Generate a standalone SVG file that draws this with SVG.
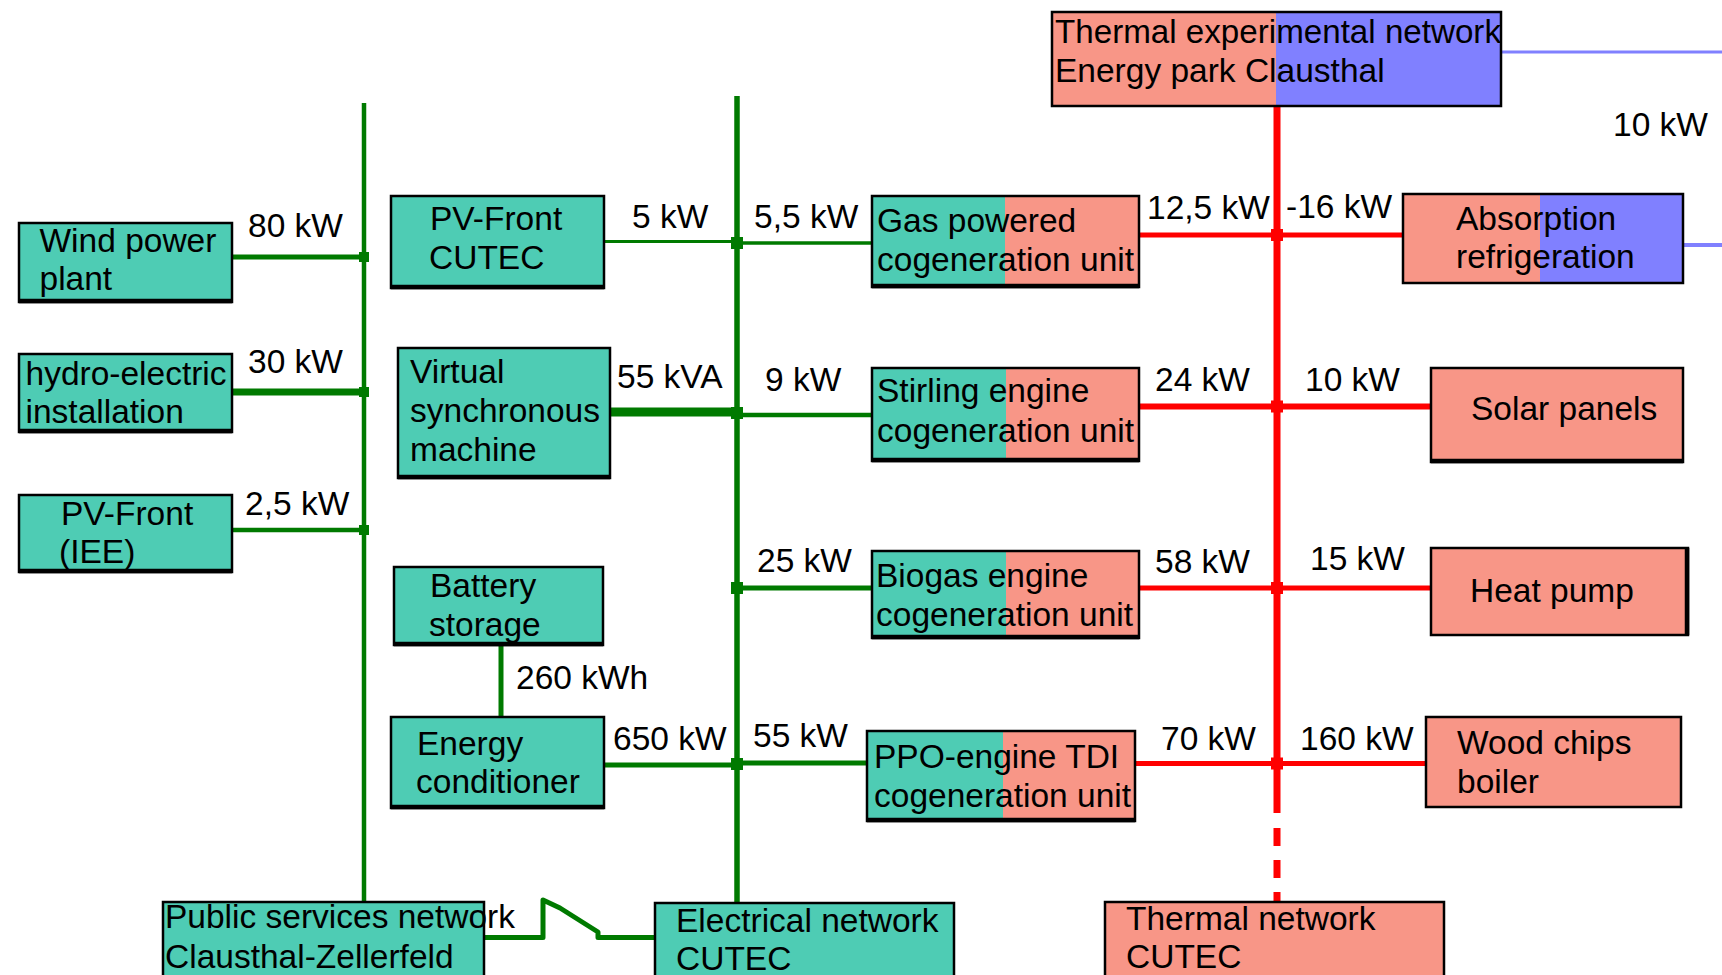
<svg xmlns="http://www.w3.org/2000/svg" width="1722" height="975" viewBox="0 0 1722 975">
<style>
text{font-family:"Liberation Sans",Arial,sans-serif;font-size:33.5px;fill:#000}
.box{fill:none;stroke:#000;stroke-width:2.5}
.sh{stroke:#000;stroke-width:4.5}
.teal{fill:#4ECCB4}
.salmon{fill:#F89687}
.blue{fill:#8080FF}
.g{stroke:#007A00;fill:none}
.r{stroke:#FF0000;fill:none}
.b{stroke:#8080FF;fill:none}
.jg{fill:#007A00}
.jr{fill:#FF0000}
</style>
<rect width="1722" height="975" fill="#fff"/>
<g id="connectors">
  <line class="g" x1="364" y1="103" x2="364" y2="902" stroke-width="4.5"/>
  <line class="g" x1="232" y1="257" x2="364" y2="257" stroke-width="5"/>
  <line class="g" x1="232" y1="392" x2="364" y2="392" stroke-width="7"/>
  <line class="g" x1="232" y1="530" x2="364" y2="530" stroke-width="4.5"/>
  <rect class="jg" x="359" y="252" width="10" height="10"/>
  <rect class="jg" x="359" y="387" width="10" height="10"/>
  <rect class="jg" x="359" y="525" width="10" height="10"/>
  <line class="g" x1="737" y1="96" x2="737" y2="904" stroke-width="5.5"/>
  <line class="g" x1="604" y1="241.5" x2="737" y2="241.5" stroke-width="3"/>
  <line class="g" x1="737" y1="243" x2="872" y2="243" stroke-width="3.5"/>
  <line class="g" x1="610" y1="412" x2="737" y2="412" stroke-width="9"/>
  <line class="g" x1="737" y1="415" x2="872" y2="415" stroke-width="4.5"/>
  <line class="g" x1="737" y1="588" x2="872" y2="588" stroke-width="5"/>
  <line class="g" x1="604" y1="765" x2="737" y2="765" stroke-width="5"/>
  <line class="g" x1="737" y1="763" x2="867" y2="763" stroke-width="5"/>
  <rect class="jg" x="731" y="237" width="12" height="12"/>
  <rect class="jg" x="731" y="407" width="12" height="12"/>
  <rect class="jg" x="731" y="582" width="12" height="12"/>
  <rect class="jg" x="731" y="758" width="12" height="12"/>
  <line class="g" x1="501" y1="645" x2="501" y2="717" stroke-width="5"/>
  <polyline class="g" points="484,937.5 543,937.5 543,900 560,908 598,932 598,937.5 655,937.5" stroke-width="5" stroke-linejoin="round"/>
  <line class="r" x1="1277" y1="106" x2="1277" y2="813" stroke-width="7"/>
  <line class="r" x1="1277" y1="828" x2="1277" y2="902" stroke-width="7" stroke-dasharray="18,14"/>
  <line class="r" x1="1139" y1="235" x2="1403" y2="235" stroke-width="5"/>
  <line class="r" x1="1139" y1="406.5" x2="1431" y2="406.5" stroke-width="6"/>
  <line class="r" x1="1139" y1="588" x2="1431" y2="588" stroke-width="5"/>
  <line class="r" x1="1135" y1="763.5" x2="1426" y2="763.5" stroke-width="5"/>
  <rect class="jr" x="1271" y="229" width="12" height="12"/>
  <rect class="jr" x="1271" y="400.5" width="12" height="12"/>
  <rect class="jr" x="1271" y="582" width="12" height="12"/>
  <rect class="jr" x="1271" y="757.5" width="12" height="12"/>
  <line class="b" x1="1501" y1="52" x2="1722" y2="52" stroke-width="3"/>
  <line class="b" x1="1682" y1="245" x2="1722" y2="245" stroke-width="4"/>
</g>
<g id="labels">
  <text x="248" y="237">80 kW</text>
  <text x="248" y="373">30 kW</text>
  <text x="245" y="515">2,5 kW</text>
  <text x="632" y="228">5 kW</text>
  <text x="754" y="228">5,5 kW</text>
  <text x="617" y="388">55 kVA</text>
  <text x="765" y="391">9 kW</text>
  <text x="757" y="572">25 kW</text>
  <text x="516" y="689">260 kWh</text>
  <text x="613" y="750">650 kW</text>
  <text x="753" y="747">55 kW</text>
  <text x="1147" y="219">12,5 kW</text>
  <text x="1286" y="218">-16 kW</text>
  <text x="1613" y="136">10 kW</text>
  <text x="1155" y="391">24 kW</text>
  <text x="1305" y="391">10 kW</text>
  <text x="1155" y="573">58 kW</text>
  <text x="1310" y="570">15 kW</text>
  <text x="1161" y="750">70 kW</text>
  <text x="1300" y="750">160 kW</text>
</g>
<g id="wind">
  <rect class="teal" x="19" y="223" width="213" height="79"/>
  <rect class="box" x="19" y="223" width="213" height="79"/>
  <line class="sh" x1="19" y1="301" x2="232" y2="301"/>
  <text x="39.5" y="252">Wind power</text>
  <text x="39.5" y="290">plant</text>
</g>
<g id="hydro">
  <rect class="teal" x="19" y="354" width="213" height="78"/>
  <rect class="box" x="19" y="354" width="213" height="78"/>
  <line class="sh" x1="19" y1="431" x2="232" y2="431"/>
  <text x="25.5" y="385">hydro-electric</text>
  <text x="25.5" y="423">installation</text>
</g>
<g id="pv-iee">
  <rect class="teal" x="19" y="495" width="213" height="77"/>
  <rect class="box" x="19" y="495" width="213" height="77"/>
  <line class="sh" x1="19" y1="571" x2="232" y2="571"/>
  <text x="61" y="525">PV-Front</text>
  <text x="59" y="563">(IEE)</text>
</g>
<g id="pv-cutec">
  <rect class="teal" x="391" y="196" width="213" height="92"/>
  <rect class="box" x="391" y="196" width="213" height="92"/>
  <line class="sh" x1="391" y1="287" x2="604" y2="287"/>
  <text x="430" y="230">PV-Front</text>
  <text x="429" y="269">CUTEC</text>
</g>
<g id="vsm">
  <rect class="teal" x="398" y="348" width="212" height="130"/>
  <rect class="box" x="398" y="348" width="212" height="130"/>
  <line class="sh" x1="398" y1="477" x2="610" y2="477"/>
  <text x="410" y="383">Virtual</text>
  <text x="410" y="422">synchronous</text>
  <text x="410" y="461">machine</text>
</g>
<g id="battery">
  <rect class="teal" x="394" y="567" width="209" height="78"/>
  <rect class="box" x="394" y="567" width="209" height="78"/>
  <line class="sh" x1="394" y1="644" x2="603" y2="644"/>
  <text x="430" y="597">Battery</text>
  <text x="429" y="636">storage</text>
</g>
<g id="energy-conditioner">
  <rect class="teal" x="391" y="717" width="213" height="91"/>
  <rect class="box" x="391" y="717" width="213" height="91"/>
  <line class="sh" x1="391" y1="807" x2="604" y2="807"/>
  <text x="417" y="755">Energy</text>
  <text x="416" y="793">conditioner</text>
</g>
<g id="public-services">
  <rect class="teal" x="163" y="902" width="321" height="80"/>
  <rect class="box" x="163" y="902" width="321" height="80"/>
  <text x="165" y="928">Public services network</text>
  <text x="165" y="968">Clausthal-Zellerfeld</text>
</g>
<g id="electrical-network">
  <rect class="teal" x="655" y="903" width="299" height="80"/>
  <rect class="box" x="655" y="903" width="299" height="80"/>
  <text x="676" y="932">Electrical network</text>
  <text x="676" y="970">CUTEC</text>
</g>
<g id="thermal-experimental">
  <rect class="salmon" x="1052" y="12" width="224" height="94"/>
  <rect class="blue" x="1276" y="12" width="225" height="94"/>
  <rect class="box" x="1052" y="12" width="449" height="94"/>
  <text x="1055" y="43" textLength="446" lengthAdjust="spacingAndGlyphs">Thermal experimental network</text>
  <text x="1055" y="82">Energy park Clausthal</text>
</g>
<g id="gas">
  <rect class="teal" x="872" y="196" width="133" height="91"/>
  <rect class="salmon" x="1005" y="196" width="134" height="91"/>
  <rect class="box" x="872" y="196" width="267" height="91"/>
  <line class="sh" x1="872" y1="286" x2="1139" y2="286"/>
  <text x="877" y="232">Gas powered</text>
  <text x="877" y="271">cogeneration unit</text>
</g>
<g id="stirling">
  <rect class="teal" x="872" y="368" width="134" height="93"/>
  <rect class="salmon" x="1006" y="368" width="133" height="93"/>
  <rect class="box" x="872" y="368" width="267" height="93"/>
  <line class="sh" x1="872" y1="460" x2="1139" y2="460"/>
  <text x="877" y="402">Stirling engine</text>
  <text x="877" y="442">cogeneration unit</text>
</g>
<g id="biogas">
  <rect class="teal" x="872" y="551" width="134" height="87"/>
  <rect class="salmon" x="1006" y="551" width="133" height="87"/>
  <rect class="box" x="872" y="551" width="267" height="87"/>
  <line class="sh" x1="872" y1="637" x2="1139" y2="637"/>
  <text x="876" y="587">Biogas engine</text>
  <text x="876" y="626">cogeneration unit</text>
</g>
<g id="ppo">
  <rect class="teal" x="867" y="731" width="136" height="90"/>
  <rect class="salmon" x="1003" y="731" width="132" height="90"/>
  <rect class="box" x="867" y="731" width="268" height="90"/>
  <line class="sh" x1="867" y1="820" x2="1135" y2="820"/>
  <text x="874" y="768">PPO-engine TDI</text>
  <text x="874" y="807">cogeneration unit</text>
</g>
<g id="thermal-cutec">
  <rect class="salmon" x="1105" y="902" width="339" height="80"/>
  <rect class="box" x="1105" y="902" width="339" height="80"/>
  <text x="1126" y="930">Thermal network</text>
  <text x="1126" y="968">CUTEC</text>
</g>
<g id="absorption">
  <rect class="salmon" x="1403" y="194" width="137" height="89"/>
  <rect class="blue" x="1540" y="194" width="143" height="89"/>
  <rect class="box" x="1403" y="194" width="280" height="89"/>
  <text x="1456" y="230">Absorption</text>
  <text x="1456" y="268">refrigeration</text>
</g>
<g id="solar">
  <rect class="salmon" x="1431" y="368" width="252" height="94"/>
  <rect class="box" x="1431" y="368" width="252" height="94"/>
  <line class="sh" x1="1431" y1="461" x2="1683" y2="461"/>
  <text x="1471" y="420">Solar panels</text>
</g>
<g id="heat-pump">
  <rect class="salmon" x="1431" y="548" width="257" height="87"/>
  <rect class="box" x="1431" y="548" width="257" height="87"/>
  <line class="sh" x1="1687" y1="548" x2="1687" y2="635"/>
  <text x="1470" y="602">Heat pump</text>
</g>
<g id="wood-chips">
  <rect class="salmon" x="1426" y="717" width="255" height="90"/>
  <rect class="box" x="1426" y="717" width="255" height="90"/>
  <text x="1457" y="754">Wood chips</text>
  <text x="1457" y="793">boiler</text>
</g>
</svg>
